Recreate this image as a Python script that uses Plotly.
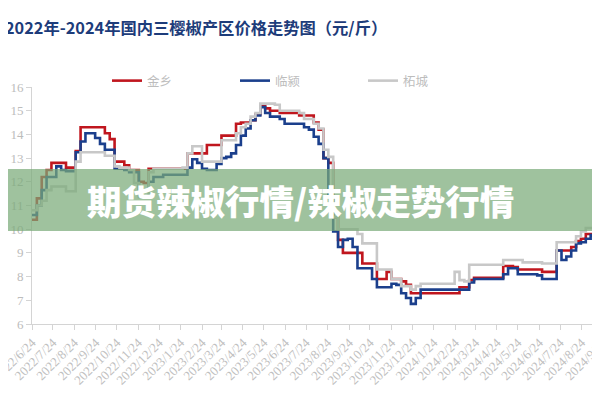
import pandas as pd
import plotly.graph_objects as go

start_date = "2022-06-24"

jinxiang = [10.4, 11.3, 12.2, 12.5, 12.8, 12.8, 12.8, 12.6, 12.6, 13.3,
            14.3, 14.3, 14.3, 14.3, 14.3, 14.05, 13.8, 12.85, 12.85, 12.7,
            12.5, 12.5, 12.0, 11.95, 12.55, 12.55, 12.55, 12.55, 12.55, 12.55,
            12.55, 12.55, 13.2, 13.2, 13.2, 13.2, 13.55, 13.55, 13.55, 13.95,
            13.95, 13.95, 14.45, 14.5, 14.5, 14.6, 14.85, 15.25, 15.1, 15.0,
            15.0, 14.9, 14.9, 14.9, 14.9, 14.8, 14.8, 14.8, 14.5, 14.2,
            13.0, 12.8, 10.5, 9.55, 9.0, 9.0, 9.0, 9.0, 8.55, 8.55,
            8.55, 7.9, 7.9, 8.2, 7.9, 7.9, 7.8, 7.65, 7.3, 7.3,
            7.3, 7.3, 7.3, 7.3, 7.3, 7.3, 7.3, 7.3, 7.55, 7.55,
            7.85, 7.95, 7.95, 7.95, 7.95, 7.95, 7.95, 8.45, 8.45, 8.4,
            8.3, 8.3, 8.3, 8.3, 8.3, 8.2, 8.2, 8.2, 9.1, 9.1,
            9.1, 9.25, 9.5, 9.6, 9.8, 9.8, 9.8, 9.7, 9.7]

linying = [10.6, 11.0, 11.65, 12.2, 12.2, 12.65, 12.5, 12.45, 12.45, 13.25,
           13.7, 14.05, 14.05, 13.85, 13.6, 13.35, 13.35, 12.55, 12.55, 12.5,
           12.4, 12.4, 11.65, 11.65, 12.0, 12.2, 12.2, 12.3, 12.3, 12.3,
           12.3, 12.3, 12.6, 12.95, 12.8, 12.55, 12.5, 12.5, 12.75, 13.0,
           13.05, 13.2, 13.55, 13.95, 14.25, 14.6, 14.8, 15.15, 14.9, 14.75,
           14.75, 14.65, 14.45, 14.45, 14.45, 14.45, 14.3, 14.2, 13.9, 13.6,
           13.0, 11.5, 9.9, 9.25, 9.55, 9.6, 9.25, 8.35, 8.35, 8.35,
           7.9, 7.55, 7.55, 7.55, 7.7, 7.65, 7.3, 7.1, 6.85, 7.1,
           7.45, 7.45, 7.45, 7.45, 7.45, 7.45, 7.45, 7.45, 7.45, 7.45,
           7.75, 7.9, 7.9, 7.9, 7.9, 7.9, 7.9, 8.1, 8.35, 8.35,
           8.1, 8.1, 8.1, 8.1, 8.05, 7.9, 7.9, 7.9, 9.1, 8.7,
           8.85, 9.1, 9.4, 9.45, 9.6, 9.75, 9.4, 9.4, 9.4]

zhecheng = [10.8, 11.0, 11.2, 11.65, 11.8, 11.8, 11.8, 11.6, 11.6, 12.85,
            13.25, 13.25, 13.25, 13.25, 13.25, 13.1, 13.1, 12.65, 12.6, 12.6,
            12.5, 11.95, 11.35, 11.35, 12.4, 12.55, 12.55, 12.55, 12.55, 12.55,
            12.55, 12.6, 13.2, 13.5, 13.5, 12.85, 12.85, 12.85, 12.85, 13.75,
            13.75, 13.75, 14.05, 14.3, 14.45, 14.75, 14.9, 15.3, 15.3, 15.3,
            15.25, 15.0, 15.0, 15.0, 15.0, 14.9, 14.65, 14.65, 14.45, 14.25,
            13.35, 13.05, 10.5, 10.0, 10.0, 10.0, 10.0, 9.8, 9.4, 9.4,
            9.4, 8.3, 8.3, 8.3, 7.9, 7.9, 7.6, 7.6, 7.45, 7.6,
            7.7, 7.7, 7.7, 7.7, 7.7, 7.7, 7.7, 8.2, 7.85, 7.8,
            8.5, 8.5, 8.5, 8.5, 8.5, 8.5, 8.5, 8.7, 8.7, 8.7,
            8.7, 8.6, 8.6, 8.6, 8.6, 8.55, 8.55, 8.55, 9.45, 9.45,
            9.45, 9.45, 9.7, 9.9, 10.05, 10.05, 10.05, 10.05, 10.05]

series_names = ["金乡", "临颍", "柘城"]
series_colors = ["#c0161e", "#1b3f8c", "#c8c8c8"]

tick_dates = pd.date_range("2022-06-24", "2024-09-24", freq=pd.DateOffset(months=1))
tick_text = [f"{d.year}/{d.month}/{d.day}" for d in tick_dates]

title_text = "2022年-2024年国内三樱椒产区价格走势图（元/斤）"
banner_text = "期货辣椒行情/辣椒走势行情"

fig = go.Figure()
for name, vals, col in zip(series_names, [jinxiang, linying, zhecheng], series_colors):
    dates = pd.date_range(start_date, periods=len(vals), freq="7D")
    fig.add_trace(go.Scatter(x=dates, y=vals, name=name, mode="lines",
                             line=dict(color=col, width=2.6, shape="hv")))

# page body has an 8px offset; positions below are in figure pixels
W, H = 600, 400
L, R, T, B = 24, 0, 79, 84
plot_h = H - T - B
plot_w = W - L - R

fig.update_layout(
    width=W, height=H,
    margin=dict(l=L, r=R, t=T, b=B, autoexpand=False),
    paper_bgcolor="white", plot_bgcolor="white",
    legend=dict(orientation="h", x=(99 - L) / plot_w, xanchor="left",
                y=1 + (T - 73) / plot_h, yanchor="middle",
                font=dict(family="Noto Sans CJK SC", size=12.5, color="#bdbdbd"),
                entrywidth=83, entrywidthmode="pixels", bgcolor="rgba(0,0,0,0)",
                itemwidth=30),
    xaxis=dict(range=["2022-06-24", "2024-10-01"], tickvals=tick_dates, ticktext=tick_text,
               tickangle=-45, showgrid=False, showline=True, linecolor="#d4d4d4", linewidth=1,
               ticks="outside", ticklen=5, tickcolor="#d4d4d4", ticklabeloverflow="allow",
               tickfont=dict(family="Liberation Serif", size=13, color="#c0c0c0"),
               zeroline=False),
    yaxis=dict(range=[6, 16], dtick=1, showgrid=False, showline=True, linecolor="#d4d4d4",
               linewidth=1, ticks="outside", ticklen=5, tickcolor="#d4d4d4",
               tickfont=dict(family="Liberation Serif", size=13, color="#bcbcbc"),
               zeroline=False),
    showlegend=True,
)

fig.add_annotation(text=title_text, xref="paper", yref="paper",
                   x=(-5 - L) / plot_w, y=1 + (T - 19) / plot_h,
                   showarrow=False, xanchor="left", yanchor="middle",
                   font=dict(family="Noto Sans CJK SC", size=16.3, color="#1d3c7a", weight=700))

fig.add_shape(type="rect", xref="paper", yref="paper",
              x0=-L / plot_w - 0.01, x1=1.02,
              y0=1 - (223 - T) / plot_h, y1=1 - (161 - T) / plot_h,
              fillcolor="rgba(122,170,120,0.72)", line=dict(width=0), layer="above")
fig.add_annotation(text=banner_text, xref="paper", yref="paper",
                   x=(292 - L) / plot_w, y=1 - (192 - T) / plot_h,
                   showarrow=False, xanchor="center", yanchor="middle",
                   font=dict(family="Noto Sans CJK SC", size=34.5, color="white", weight=900))

fig.write_html("out.html")
